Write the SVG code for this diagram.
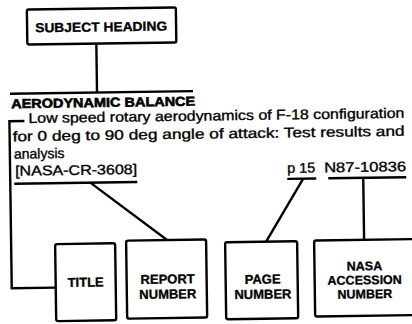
<svg xmlns="http://www.w3.org/2000/svg" width="412" height="324" viewBox="0 0 412 324">
<style>
.box{fill:#fff;stroke:#000;stroke-width:2.4}
.ln{fill:none;stroke:#000;stroke-width:2.4}
.lbl{font-family:'Liberation Sans',Arial,sans-serif;font-weight:bold;font-size:13px;text-anchor:middle;fill:#000;stroke:#000;stroke-width:0.3}
.lbs{font-size:12.5px}
.body{font-family:'Liberation Sans',Arial,sans-serif;font-size:14px;fill:#000;stroke:#000;stroke-width:0.35}
.head{font-family:'Liberation Sans',Arial,sans-serif;font-weight:bold;font-size:13px;fill:#000;stroke:#000;stroke-width:0.6}
</style>
<rect width="412" height="324" fill="#fff"/>
<g transform="rotate(-0.8 206 162)">
<g id="connectors">
<line class="ln" x1="98" y1="42" x2="98" y2="91"/>
<line class="ln" x1="11" y1="91" x2="194" y2="91" stroke-width="2.8"/>
<polyline class="ln" points="25,118.5 10,118.5 10,285.5 54,285.5"/>
<line class="ln" x1="14" y1="181" x2="137" y2="181"/>
<line class="ln" x1="90" y1="181" x2="166" y2="239.5"/>
<line class="ln" x1="287" y1="180" x2="316" y2="180"/>
<line class="ln" x1="303" y1="180" x2="265" y2="242.5"/>
<line class="ln" x1="328" y1="180" x2="406" y2="180"/>
<line class="ln" x1="363" y1="180" x2="363" y2="242"/>
</g>
<g id="subject-heading">
<rect class="box" x="29" y="7" width="149" height="35" rx="2"/>
<text class="lbl" x="103" y="30" textLength="132" lengthAdjust="spacingAndGlyphs">SUBJECT HEADING</text>
</g>
<g id="citation">
<text class="head" x="12" y="105.5" textLength="184" lengthAdjust="spacingAndGlyphs">AERODYNAMIC BALANCE</text>
<text class="body" x="29" y="120.5" textLength="376" lengthAdjust="spacingAndGlyphs">Low speed rotary aerodynamics of F-18 configuration</text>
<text class="body" x="13" y="138.5" textLength="392" lengthAdjust="spacingAndGlyphs">for 0 deg to 90 deg angle of attack: Test results and</text>
<text class="body" x="14" y="156">analysis</text>
<text class="body" x="15" y="173" textLength="122" lengthAdjust="spacingAndGlyphs">[NASA-CR-3608]</text>
<text class="body" x="287" y="174" textLength="28" lengthAdjust="spacingAndGlyphs">p 15</text>
<text class="body" x="324" y="174" textLength="82" lengthAdjust="spacingAndGlyphs">N87-10836</text>
</g>
<g id="title">
<rect class="box" x="54" y="242" width="60" height="77" rx="2"/>
<text class="lbl" x="84" y="285">TITLE</text>
</g>
<g id="report-number">
<rect class="box" x="125" y="239.5" width="80" height="78" rx="2"/>
<text class="lbl" x="166" y="283">REPORT</text>
<text class="lbl" x="166" y="298">NUMBER</text>
</g>
<g id="page-number">
<rect class="box" x="224" y="242.5" width="72" height="77" rx="2"/>
<text class="lbl" x="261" y="284.5">PAGE</text>
<text class="lbl" x="261" y="299.5">NUMBER</text>
</g>
<g id="accession-number">
<rect class="box" x="313" y="242" width="110" height="76" rx="2"/>
<text class="lbl lbs" x="363" y="272.5">NASA</text>
<text class="lbl lbs" x="363" y="286.5">ACCESSION</text>
<text class="lbl lbs" x="363" y="300.5">NUMBER</text>
</g>
</g>
</svg>
